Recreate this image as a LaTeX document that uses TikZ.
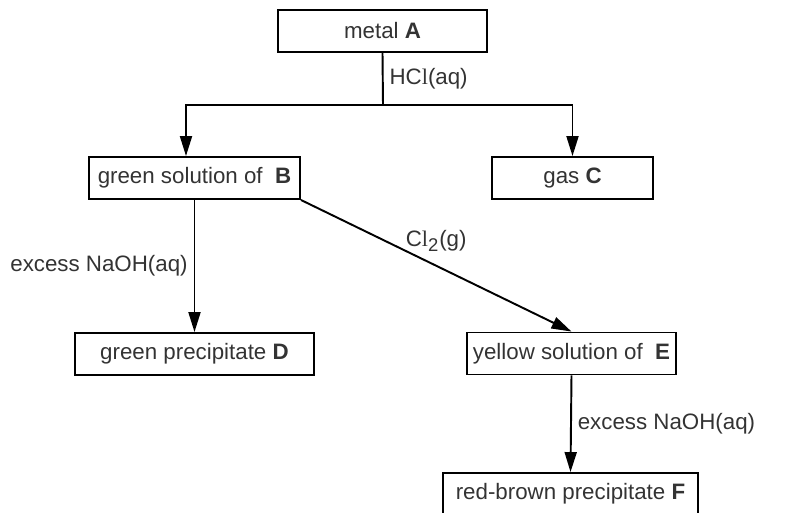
\documentclass[tikz,border=0pt]{standalone}
\usepackage{fontspec}
\setmainfont{Liberation Sans}
\newfontfamily\serifl{Liberation Serif}
\usetikzlibrary{arrows.meta}
\begin{document}
\begin{tikzpicture}[x=0.02cm,y=-0.02cm,
  box/.style={draw,line width=1.1pt,minimum height=0.84cm,text=black!80,font=\fontsize{12.7}{14}\selectfont},
  arr/.style={line width=1.1pt,-{Triangle[length=0.4cm,width=0.24cm]}},
  lab/.style={text=black!80,font=\fontsize{12.7}{14}\selectfont}]
\useasboundingbox (0,0) rectangle (812,512);
\node[box,minimum width=4.18cm] (A) at (382.5,31) {metal \textbf{A}};
\node[box,minimum width=4.22cm] (B) at (194.5,178) {green solution of \ \textbf{B}};
\node[box,minimum width=3.22cm] (C) at (572.5,178) {gas \textbf{C}};
\node[box,minimum width=4.78cm] (D) at (194.5,354) {green precipitate \textbf{D}};
\node[box,minimum width=4.18cm] (E) at (571.5,353.5) {yellow solution of \ \textbf{E}};
\node[box,minimum width=5.10cm] (F) at (570.5,494) {red-brown precipitate \textbf{F}};
\coordinate (split) at (383,105);
\coordinate (left) at (186,105);
\draw[line width=1.1pt] (A.south) -- (split) node[midway,right,lab] {HC{\serifl l}(aq)};
\draw[arr] (split) -- (left) -- (left |- B.north);
\draw[arr] (split) -| (C.north);
\draw[arr] (B.south) -- (D.north) node[midway,left,lab] {excess NaOH(aq)};
\draw[arr] (B.south east) -- (E.north) node[midway,above=0.14cm,lab] {C{\serifl l}\textsubscript{\fontsize{10.5}{12}\selectfont 2}(g)};
\draw[arr] (E.south) -- (F.north) node[midway,right,lab] {excess NaOH(aq)};
\end{tikzpicture}
\end{document}
